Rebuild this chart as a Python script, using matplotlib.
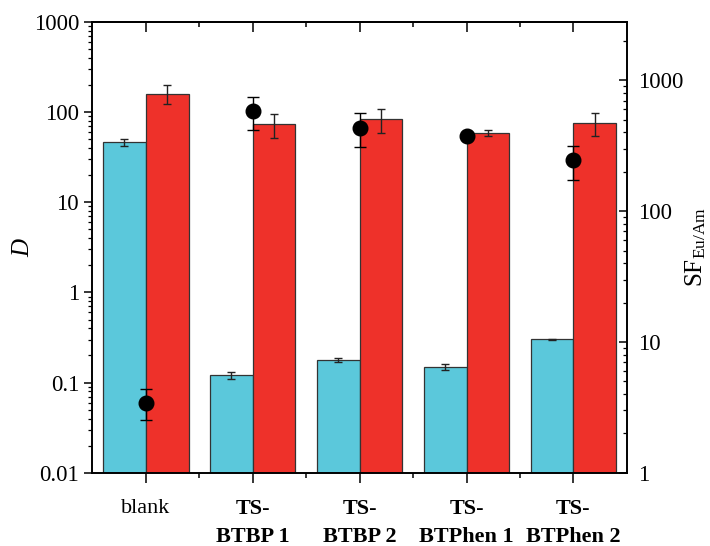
import numpy as np
import matplotlib
matplotlib.use("Agg")
import matplotlib.pyplot as plt
from matplotlib.ticker import LogLocator, FuncFormatter, FixedLocator, NullFormatter

plt.rcParams['font.family'] = ['Liberation Serif', 'DejaVu Serif']
plt.rcParams['mathtext.fontset'] = 'custom'
plt.rcParams['mathtext.rm'] = 'Liberation Serif'
plt.rcParams['mathtext.it'] = 'Liberation Serif:italic'

# data
samples = ["blank", "TS-\nBTBP 1", "TS-\nBTBP 2", "TS-\nBTPhen 1", "TS-\nBTPhen 2"]
D_Am = [46, 0.121, 0.178, 0.149, 0.303]
D_Am_err = [4, 0.010, 0.008, 0.010, 0.005]
D_Eu = [160, 73, 83, 59, 76]
D_Eu_err = [37, 21, 24, 5, 22]
SF = [3.44, 583, 435, 374, 245]
SF_err = [0.9, 165, 123, 10, 72]

c_am = "#5bc8db"
c_eu = "#ee312a"
x = np.arange(1, len(samples) + 1)
w = 0.4

fig = plt.figure(figsize=(7.1, 5.46), dpi=100)
ax = fig.add_axes([0.130, 0.134, 0.753, 0.826])
ax2 = ax.twinx()

ax.bar(x - w / 2, D_Am, w, color=c_am, edgecolor="#333333", linewidth=0.9, zorder=2)
ax.bar(x + w / 2, D_Eu, w, color=c_eu, edgecolor="#333333", linewidth=0.9, zorder=2)
ax.errorbar(x - w / 2, D_Am, yerr=D_Am_err, fmt="none", ecolor="#222222",
            elinewidth=1, capsize=3.2, capthick=1, zorder=3)
ax.errorbar(x + w / 2, D_Eu, yerr=D_Eu_err, fmt="none", ecolor="#222222",
            elinewidth=1, capsize=3.2, capthick=1, zorder=3)

ax2.errorbar(x, SF, yerr=SF_err, fmt="o", color="black", ms=10.5,
             elinewidth=1, capsize=4.2, capthick=1, zorder=4)

ax.set_yscale("log")
ax.set_ylim(0.01, 1000)
ax2.set_yscale("log")
ax2.set_ylim(1, 2800)
ax.set_xlim(0.5, 5.5)

fmt = FuncFormatter(lambda v, p: "%g" % v)
for a in (ax, ax2):
    a.yaxis.set_major_locator(LogLocator(base=10, numticks=10))
    a.yaxis.set_minor_locator(LogLocator(base=10, subs=np.arange(2, 10), numticks=10))
    a.yaxis.set_major_formatter(fmt)
    a.yaxis.set_minor_formatter(NullFormatter())

ax.set_xticks(x)
ax.set_xticklabels(samples, linespacing=1.55)
ax.xaxis.set_minor_locator(FixedLocator(np.arange(1.5, 5.0, 1.0)))
for i, lab in enumerate(ax.get_xticklabels()):
    if i > 0:
        lab.set_fontweight("bold")

ax.tick_params(axis="x", which="major", direction="out", length=7, width=1.1,
               labelsize=16, pad=12)
ax.tick_params(axis="x", which="minor", direction="out", length=3.5, width=1.1)
ax.tick_params(axis="y", which="major", direction="out", length=6, width=1.1,
               labelsize=16.5, right=False)
ax.tick_params(axis="y", which="minor", direction="out", length=3, width=0.9, right=False)
ax2.tick_params(axis="y", which="major", direction="in", length=6, width=1.1,
                labelsize=16.5, pad=8)
ax2.tick_params(axis="y", which="minor", direction="in", length=3, width=0.9)

top = ax.secondary_xaxis("top")
top.set_xticks(x)
top.xaxis.set_minor_locator(FixedLocator(np.arange(1.5, 5.0, 1.0)))
top.tick_params(axis="x", which="major", direction="in", length=7, width=1.1, labeltop=False)
top.tick_params(axis="x", which="minor", direction="in", length=3.5, width=1.1)

for a in (ax, ax2):
    for s in a.spines.values():
        s.set_linewidth(1.2)
top.spines["top"].set_linewidth(1.2)

ax.set_ylabel("$D$", fontsize=18, labelpad=0)
ax2.set_ylabel(r"SF$_{\mathrm{Eu/Am}}$", fontsize=18, labelpad=0)

fig.savefig("out.png", dpi=100)
